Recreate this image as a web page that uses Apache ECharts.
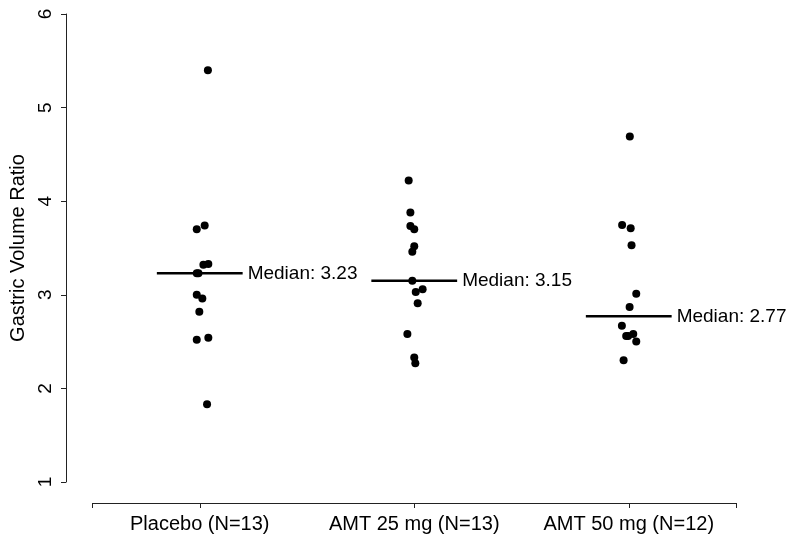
<!DOCTYPE html>
<html>
<head>
<meta charset="utf-8">
<script src="https://cdn.jsdelivr.net/npm/echarts@6/dist/echarts.min.js"></script>
<style>
html,body{margin:0;padding:0;background:#fff;}
#chart{width:800px;height:544px;}
</style>
</head>
<body>
<div id="chart"></div>
<script>
// Categories (tick labels on the x axis)
var categories = ['Placebo (N=13)', 'AMT 25 mg (N=13)', 'AMT 50 mg (N=12)'];
// Observed values per group
var placeboValues = [5.40, 3.74, 3.70, 3.33, 3.32, 3.23, 3.23, 3.00, 2.96, 2.82, 2.54, 2.52, 1.83];
var amt25Values   = [4.22, 3.88, 3.735, 3.70, 3.52, 3.46, 3.15, 3.06, 3.03, 2.91, 2.58, 2.33, 2.27];
var amt50Values   = [4.69, 3.745, 3.71, 3.53, 3.01, 2.87, 2.67, 2.56, 2.56, 2.58, 2.50, 2.30];
// Horizontal jitter (in category units)
var placeboJitter = [0.038, 0.023, -0.014, 0.040, 0.017, -0.014, -0.006, -0.014, 0.012, -0.002, 0.040, -0.014, 0.034];
var amt25Jitter   = [-0.026, -0.018, -0.018, 0.000, 0.000, -0.009, -0.009, 0.039, 0.007, 0.016, -0.032, 0.000, 0.005];
var amt50Jitter   = [0.005, -0.031, 0.009, 0.013, 0.035, 0.004, -0.032, -0.012, -0.003, 0.021, 0.035, -0.024];
// Medians
var medians = [3.23, 3.15, 2.77];
// Y tick labels
var yTicks = [1, 2, 3, 4, 5, 6];

var FONT = '"Liberation Sans", Arial, Helvetica, sans-serif';
var groups = [placeboValues, amt25Values, amt50Values];
var jitters = [placeboJitter, amt25Jitter, amt50Jitter];

var points = [];
groups.forEach(function (vals, g) {
  vals.forEach(function (v, i) {
    points.push([g + 1 + jitters[g][i], v]);
  });
});
var medianData = medians.map(function (m, i) { return [i + 1, m]; });

var chart = echarts.init(document.getElementById('chart'), null, {renderer: 'canvas'});
chart.setOption({
  animation: false,
  backgroundColor: '#ffffff',
  grid: {left: 92.5, right: 64, top: 14, bottom: 62, containLabel: false},
  xAxis: {
    type: 'value',
    min: 0.5, max: 3.5,
    offset: 21,
    splitLine: {show: false},
    axisLine: {show: true, lineStyle: {color: '#222', width: 1}},
    axisTick: {show: true, length: 5, customValues: [0.5, 1, 2, 3, 3.5], lineStyle: {color: '#222'}},
    axisLabel: {
      show: true, margin: 11, customValues: [1, 2, 3],
      color: '#000', fontSize: 20, fontFamily: FONT,
      formatter: function (v) { return categories[Math.round(v) - 1] || ''; }
    }
  },
  yAxis: {
    type: 'value',
    min: yTicks[0], max: yTicks[yTicks.length - 1], interval: 1,
    offset: 26.5,
    name: 'Gastric Volume Ratio',
    nameLocation: 'middle',
    nameGap: 38,
    nameTextStyle: {color: '#000', fontSize: 20, fontFamily: FONT},
    splitLine: {show: false},
    axisLine: {show: true, lineStyle: {color: '#222', width: 1}},
    axisTick: {show: true, length: 5, lineStyle: {color: '#222'}},
    axisLabel: {show: true, rotate: 90, margin: 11, color: '#000', fontSize: 19, fontFamily: FONT}
  },
  series: [
    {
      type: 'scatter',
      data: points,
      symbol: 'circle',
      symbolSize: 8,
      itemStyle: {color: '#000', opacity: 1},
      z: 3
    },
    {
      type: 'custom',
      data: medianData,
      z: 2,
      renderItem: function (params, api) {
        var x = api.value(0), y = api.value(1);
        var p1 = api.coord([x - 0.2, y]);
        var p2 = api.coord([x + 0.2, y]);
        return {
          type: 'group',
          children: [
            {type: 'line', shape: {x1: p1[0], y1: p1[1], x2: p2[0], y2: p2[1]},
             style: {stroke: '#000', lineWidth: 2.5}},
            {type: 'text', x: p2[0] + 5, y: p2[1],
             style: {text: 'Median: ' + y.toFixed(2), fill: '#000', fontSize: 19, fontFamily: FONT,
                     textAlign: 'left', textVerticalAlign: 'middle'}}
          ]
        };
      }
    }
  ]
});
</script>
</body>
</html>
